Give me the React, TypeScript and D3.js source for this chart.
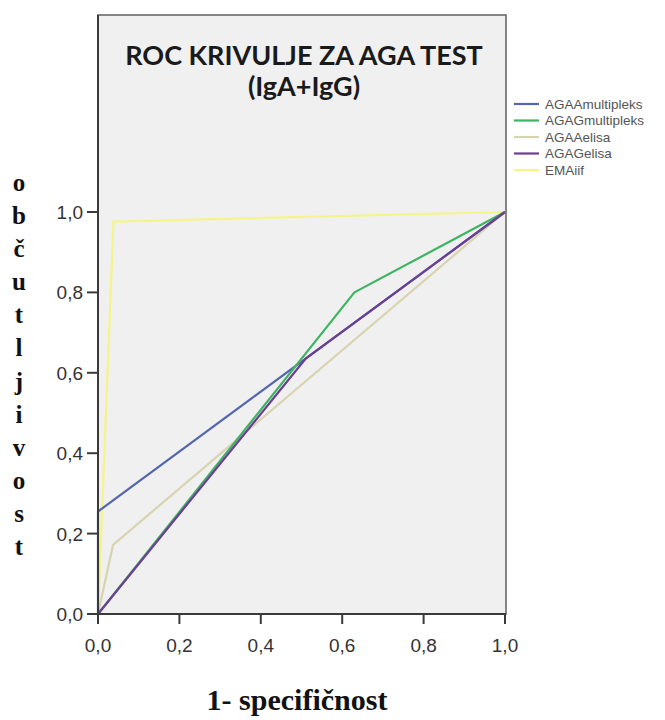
import React from "react";
import * as d3 from "d3";

type Pt = [number, number];

const seriesNames = ["AGAAmultipleks", "AGAGmultipleks", "AGAAelisa", "AGAGelisa", "EMAiif"];
const seriesColors = ["#5466ad", "#3db462", "#d8d3b0", "#6b3f94", "#f4f489"];

const agaaMultipleks: Pt[] = [[0, 0], [0, 0.255], [1, 1]];
const agagMultipleks: Pt[] = [[0, 0], [0.63, 0.8], [1, 1]];
const agaaElisa: Pt[] = [[0, 0], [0.037, 0.172], [1, 1]];
const agagElisa: Pt[] = [[0, 0], [0.51, 0.635], [1, 1]];
const emaIif: Pt[] = [[0, 0], [0.038, 0.976], [1, 1]];

const seriesData: Pt[][] = [agaaMultipleks, agagMultipleks, agaaElisa, agagElisa, emaIif];
// drawing order (beige & yellow underneath)
const drawOrder = [4, 2, 0, 1, 3];

const tickValues = [0, 0.2, 0.4, 0.6, 0.8, 1.0];
const tickLabels = ["0,0", "0,2", "0,4", "0,6", "0,8", "1,0"];

const titleLines = ["ROC KRIVULJE ZA AGA TEST", "(IgA+IgG)"];
const xLabel = "1- specifičnost";
const yLabel = "občutljivost";

export default function App() {
  const W = 665, H = 720;
  const x = d3.scaleLinear().domain([0, 1]).range([98, 505]);
  const y = d3.scaleLinear().domain([0, 1]).range([614, 212]);
  const boxTop = 15;
  const boxRight = 506;
  const line = d3.line<Pt>().x(d => x(d[0])).y(d => y(d[1]));
  const letters = Array.from(yLabel);
  const letterY = d3.scaleLinear().domain([0, letters.length - 1]).range([191, 555]);

  return (
    <svg width={W} height={H} style={{ position: "absolute", left: 0, top: 0, background: "#fff" }}>
      <rect x={x(0)} y={boxTop} width={boxRight - x(0)} height={y(0) - boxTop} fill="#f0f0f0" stroke="#6a6a6a" strokeWidth={1.6} />
      {titleLines.map((t, i) => (
        <text key={t} x={304} y={65 + i * 31} textAnchor="middle" fontFamily="Lato, 'Open Sans', sans-serif" fontWeight="bold" fontSize={27} fill="#1a1a1a">{t}</text>
      ))}
      {drawOrder.map(i => (
        <path key={seriesNames[i]} d={line(seriesData[i]) || ""} fill="none" stroke={seriesColors[i]} strokeWidth={2.2} strokeLinejoin="round" />
      ))}
      {/* axes */}
      <line x1={x(0)} x2={x(0)} y1={boxTop} y2={y(0)} stroke="#3a3a3a" strokeWidth={2} />
      <line x1={x(0)} x2={boxRight} y1={y(0)} y2={y(0)} stroke="#3a3a3a" strokeWidth={2} />
      {tickValues.map((v, i) => (
        <g key={"x" + v}>
          <line x1={x(v)} x2={x(v)} y1={y(0)} y2={y(0) + 10} stroke="#3a3a3a" strokeWidth={2} />
          <text x={x(v)} y={652} textAnchor="middle" fontFamily="'Liberation Sans', Arial, sans-serif" fontSize={19} fill="#333">{tickLabels[i]}</text>
        </g>
      ))}
      {tickValues.map((v, i) => (
        <g key={"y" + v}>
          <line x1={x(0) - 11} x2={x(0)} y1={y(v)} y2={y(v)} stroke="#3a3a3a" strokeWidth={2} />
          <text x={83} y={y(v) + 7} textAnchor="end" fontFamily="'Liberation Sans', Arial, sans-serif" fontSize={19} fill="#333">{tickLabels[i]}</text>
        </g>
      ))}
      {/* legend */}
      {seriesNames.map((n, i) => (
        <g key={n}>
          <line x1={514} x2={539} y1={104 + i * 16.5} y2={104 + i * 16.5} stroke={seriesColors[i]} strokeWidth={2.2} />
          <text x={545} y={104 + i * 16.5 + 4.5} fontFamily="'Liberation Sans', Arial, sans-serif" fontSize={13.5} fill="#555">{n}</text>
        </g>
      ))}
      {/* axis titles */}
      <text x={297} y={710} textAnchor="middle" fontFamily="'Liberation Serif', 'Times New Roman', serif" fontWeight="bold" fontSize={30} fill="#111">{xLabel}</text>
      {letters.map((c, i) => (
        <text key={i} x={19} y={letterY(i)} textAnchor="middle" fontFamily="'Liberation Serif', 'Times New Roman', serif" fontWeight="bold" fontSize={25} fill="#111">{c}</text>
      ))}
    </svg>
  );
}
